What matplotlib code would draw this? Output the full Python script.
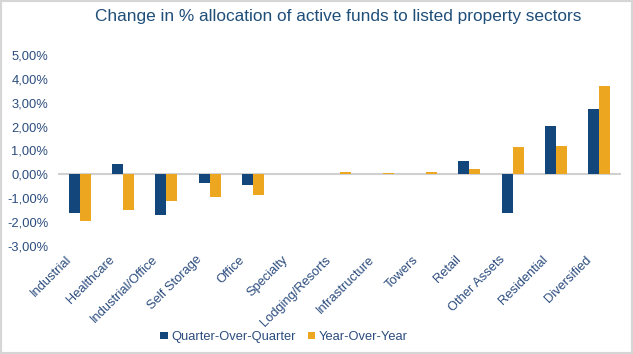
import matplotlib.pyplot as plt
import numpy as np
from matplotlib.patches import Rectangle
from matplotlib.ticker import FuncFormatter
from matplotlib.transforms import ScaledTranslation

plt.rcParams['font.family'] = ['Liberation Sans', 'DejaVu Sans']

sectors = ["Industrial", "Healthcare", "Industrial/Office", "Self Storage", "Office",
           "Specialty", "Lodging/Resorts", "Infrastructure", "Towers", "Retail",
           "Other Assets", "Residential", "Diversified"]
qoq = [-1.61, 0.42, -1.72, -0.35, -0.43, 0.0, 0.0, 0.0, 0.0, 0.55, -1.60, 2.02, 2.74]
yoy = [-1.97, -1.50, -1.13, -0.96, -0.85, 0.0, 0.08, 0.07, 0.11, 0.23, 1.14, 1.18, 3.71]

navy = '#13477C'
gold = '#EDA61F'
txt = '#2B4C7E'

fig = plt.figure(figsize=(6.33, 3.54), dpi=100)
ax = fig.add_axes([58/633, 1 - 246/354, 563/633, 191/354])

x = np.arange(len(sectors))
w = 0.255
ax.bar(x - w/2, qoq, w, color=navy, linewidth=0, label='Quarter-Over-Quarter')
ax.bar(x + w/2, yoy, w, color=gold, linewidth=0, label='Year-Over-Year')
ax.axhline(0, color='#D0D0D0', linewidth=1.5, zorder=0)

ax.set_xlim(-0.5, len(sectors) - 0.5)
ax.set_ylim(-3, 5)
ax.set_yticks(np.arange(-3, 6, 1))
ax.yaxis.set_major_formatter(FuncFormatter(lambda v, p: f"{v:.2f}%".replace('.', ',')))
ax.set_xticks(x)
ax.set_xticklabels(sectors, rotation=45, ha='right', va='center', rotation_mode='anchor')
ax.tick_params(length=0, colors=txt, labelsize=9.3)
ax.tick_params(axis='y', pad=7)
ax.tick_params(axis='x', pad=0)
shift = ScaledTranslation(-10/100, -12/100, fig.dpi_scale_trans)
for lab in ax.get_xticklabels():
    lab.set_transform(lab.get_transform() + shift)
for s in ax.spines.values():
    s.set_visible(False)

fig.text(338/633, 1 - 17/354, "Change in % allocation of active funds to listed property sectors",
         ha='center', va='center', fontsize=12.4, color='#1F4E79')

fig.legend(loc='center', bbox_to_anchor=(284/633, 1 - 337/354), ncol=2, frameon=False,
           fontsize=9.3, labelcolor=txt, handlelength=0.55, handleheight=0.55,
           handletextpad=0.3, columnspacing=0.9)

fig.patches.append(Rectangle((0, 0), 1, 1, transform=fig.transFigure, fill=False,
                             edgecolor='#D6D6D6', linewidth=3))

fig.savefig('out.png', dpi=100)
